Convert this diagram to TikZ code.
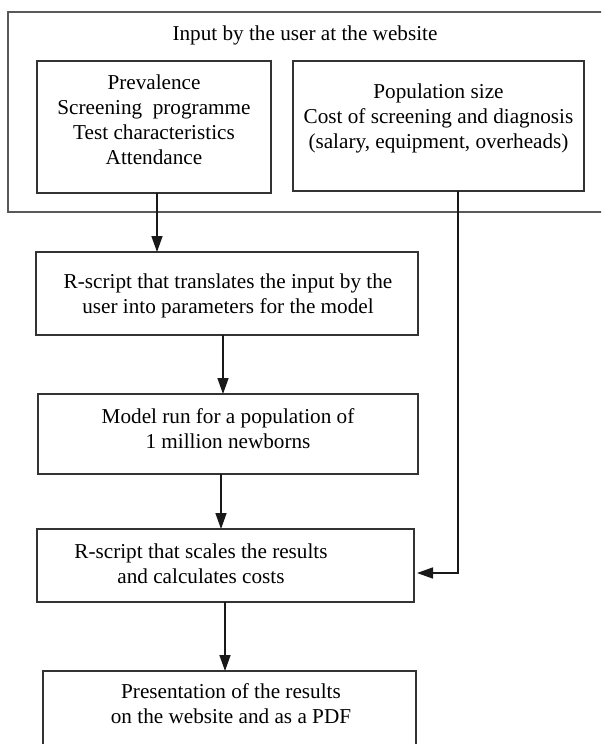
\documentclass[tikz,border=0pt]{standalone}
\usepackage{fontspec}
\setmainfont{Liberation Serif}
\usetikzlibrary{arrows.meta}
\tikzset{
  box/.style={draw=black!80, line width=0.8pt, rectangle, inner sep=0pt, outer sep=0pt},
  outerbox/.style={draw=black!65, line width=1pt, rectangle, inner sep=0pt, outer sep=0pt},
  txt/.style={align=center, inner sep=0pt, font=\fontsize{10.6}{12.5}\selectfont},
  arr/.style={draw=black!90, line width=0.8pt, -{Triangle[length=8pt,width=5.5pt]}}
}
\begin{document}
\begin{tikzpicture}[x=0.5pt, y=-0.5pt]
\useasboundingbox (0,0) rectangle (601,744);
\clip (0,0) rectangle (601,744);
% boxes
\node[outerbox, minimum width=306pt, minimum height=100pt] (outer) at (314,112) {};
\node[box, minimum width=117pt, minimum height=66pt] (inL) at (154,127) {};
\node[box, minimum width=145.5pt, minimum height=65pt] (inR) at (438.5,126) {};
\node[box, minimum width=191pt, minimum height=41.5pt] (b2) at (227,293.5) {};
\node[box, minimum width=190pt, minimum height=40pt] (b3) at (228,434) {};
\node[box, minimum width=188.5pt, minimum height=36.5pt] (b4) at (225.5,565.5) {};
\node[box, minimum width=186.5pt, minimum height=59.5pt] (b5) at (229.5,730.5) {};
% texts
\node[txt] (tTitle) at (305,35) {Input by the user at the website};
\node[txt] (tL) at (154,120) {Prevalence\\Screening\ \ programme\\Test characteristics\\Attendance};
\node[txt] (tR) at (438.5,118) {Population size\\Cost of screening and diagnosis\\(salary, equipment, overheads)};
\node[txt] (t2) at (228,296) {R-script that translates the input by the\\user into parameters for the model};
\node[txt] (t3) at (228,429) {Model run for a population of\\1 million newborns};
\node[txt] (t4) at (201,563.5) {R-script that scales the results\\and calculates costs};
\node[txt] (t5) at (231,704) {Presentation of the results\\on the website and as a PDF};
% connectors
\draw[arr] ([xshift=1.5pt]inL.south) -- ([xshift=1.5pt]inL.south |- b2.north);
\draw[arr] ([xshift=-2pt]b2.south) -- ([xshift=-2pt]b2.south |- b3.north);
\draw[arr] ([xshift=-3.5pt]b3.south) -- ([xshift=-3.5pt]b3.south |- b4.north);
\draw[arr] ([xshift=-0.25pt]b4.south) -- ([xshift=-0.25pt]b4.south |- b5.north);
\draw[arr, shorten >=1.5pt] ([xshift=9.75pt]inR.south) |- ([yshift=-3.75pt]b4.east);
\end{tikzpicture}
\end{document}
